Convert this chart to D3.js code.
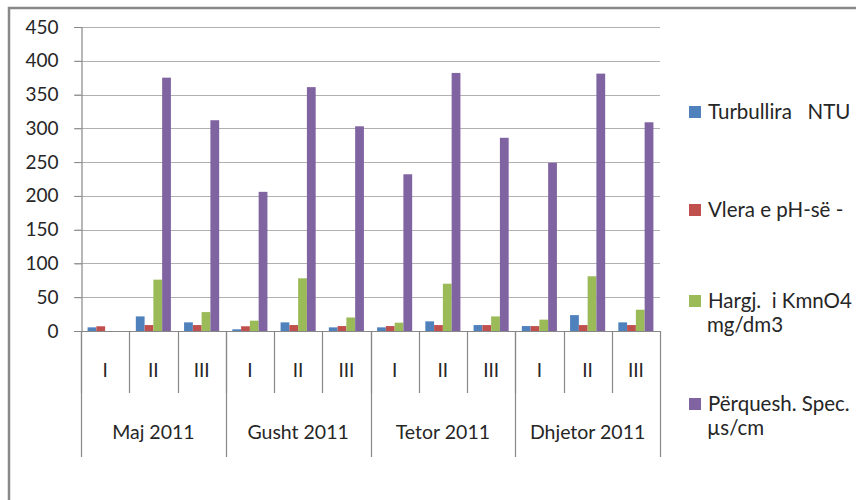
<!DOCTYPE html>
<html>
<head>
<meta charset="utf-8">
<script src="https://cdn.jsdelivr.net/npm/d3@7"></script>
<style>
  html, body { margin: 0; padding: 0; background: #fff; overflow: hidden; }
  svg text { font-family: Lato, "Open Sans", sans-serif; fill: #262626; }
</style>
</head>
<body>
<div id="chart"></div>
<script>
// categories
const months = ["Maj 2011", "Gusht 2011", "Tetor 2011", "Dhjetor 2011"];
const periods = ["I", "II", "III"];

// series, null = no bar
const turbullira = [5.4, 21.6, 12.8, 2.5, 12.8, 5.4, 5.4, 14.3, 8.8, 7.3, 23.5, 12.8];
const phVlera = [7, 8.8, 8.8, 7, 8.8, 7.3, 7.3, 8.8, 8.8, 7.3, 8.8, 8.8];
const kmno4 = [null, 76, 28, 15.3, 78, 20, 12.3, 70, 21.6, 16.8, 81, 31.5];
const perqueshmeria = [null, 375, 312, 206, 361, 303, 232, 382, 286, 249, 381, 309];

const yTicks = [0, 50, 100, 150, 200, 250, 300, 350, 400, 450];

const seriesNames = [["Turbullira   NTU"], ["Vlera e pH-së -"], ["Hargj.  i KmnO4", "mg/dm3"], ["Përquesh. Spec.", "µs/cm"]];
const seriesColors = ["#4F81BD", "#C0504D", "#9BBB59", "#8064A2"];
const seriesValues = [turbullira, phVlera, kmno4, perqueshmeria];

function drawChart() {
    const width = 856;
    const height = 500;

    const svg = d3.select("#chart")
        .append("svg")
        .attr("width", width)
        .attr("height", height);

    // outer chart frame (runs off the right and bottom edge)
    svg.append("rect")
        .attr("x", 9)
        .attr("y", 8)
        .attr("width", 1000)
        .attr("height", 700)
        .attr("fill", "none")
        .attr("stroke", "#888")
        .attr("stroke-width", 2.5);

    const plotLeft = 81, plotRight = 660, plotTop = 27, plotBottom = 331;

    // one slot per month/period pair
    const cats = [];
    months.forEach(m => periods.forEach(p => cats.push(m + "|" + p)));

    const x0 = d3.scaleBand()
        .domain(cats)
        .range([plotLeft, plotRight]);

    const x1 = d3.scaleBand()
        .domain(d3.range(seriesValues.length))
        .range([0, x0.bandwidth()])
        .paddingOuter(0.75);

    const xMonth = d3.scaleBand()
        .domain(months)
        .range([plotLeft, plotRight]);

    const y = d3.scaleLinear()
        .domain([0, 450])
        .range([plotBottom, plotTop]);

    // gridlines
    svg.append("g")
        .selectAll("line")
        .data(yTicks)
        .enter().append("line")
        .attr("x1", plotLeft - 7)
        .attr("x2", plotRight)
        .attr("y1", d => Math.round(y(d)) + 0.5)
        .attr("y2", d => Math.round(y(d)) + 0.5)
        .attr("stroke", d => d === 0 ? "#888" : "#b0b0b0")
        .attr("stroke-width", 1.2);

    // y axis
    const yAxis = svg.append("g")
        .attr("transform", `translate(${plotLeft + 0.5},0)`)
        .call(d3.axisLeft(y).tickValues(yTicks).tickSize(7).tickPadding(16));
    yAxis.select(".domain").attr("stroke", "#888").attr("stroke-width", 1.2);
    yAxis.selectAll(".tick line").attr("stroke", "#888");
    yAxis.selectAll("text")
        .attr("font-size", 19)
        .attr("font-family", "Lato, sans-serif")
        .attr("fill", "#262626");

    // bars
    const rows = cats.map((c, i) => ({ cat: c, values: seriesValues.map(s => s[i]) }));
    const groups = svg.append("g")
        .selectAll("g")
        .data(rows)
        .enter().append("g")
        .attr("transform", d => `translate(${x0(d.cat)},0)`);

    groups.selectAll("rect")
        .data(d => d.values.map((v, k) => ({ k, v })).filter(e => e.v !== null))
        .enter().append("rect")
        .attr("x", d => x1(d.k))
        .attr("width", x1.bandwidth())
        .attr("y", d => y(d.v))
        .attr("height", d => y(0) - y(d.v))
        .attr("fill", d => seriesColors[d.k]);

    // category axis: period dividers and labels
    const axisG = svg.append("g");
    axisG.selectAll("line.sub")
        .data(cats)
        .enter().append("line")
        .attr("class", "sub")
        .attr("x1", d => Math.round(x0(d)) + 0.5)
        .attr("x2", d => Math.round(x0(d)) + 0.5)
        .attr("y1", plotBottom)
        .attr("y2", 393)
        .attr("stroke", "#888")
        .attr("stroke-width", 1.2);

    axisG.selectAll("line.grp")
        .data(months.concat(["end"]))
        .enter().append("line")
        .attr("class", "grp")
        .attr("x1", d => Math.round(d === "end" ? plotRight : xMonth(d)) + 0.5)
        .attr("x2", d => Math.round(d === "end" ? plotRight : xMonth(d)) + 0.5)
        .attr("y1", plotBottom)
        .attr("y2", 457)
        .attr("stroke", "#888")
        .attr("stroke-width", 1.2);

    axisG.selectAll("text.sub")
        .data(cats)
        .enter().append("text")
        .attr("class", "sub")
        .attr("x", d => x0(d) + x0.bandwidth() / 2)
        .attr("y", 377)
        .attr("text-anchor", "middle")
        .attr("font-size", 19)
        .text(d => d.split("|")[1]);

    axisG.selectAll("text.grp")
        .data(months)
        .enter().append("text")
        .attr("class", "grp")
        .attr("x", d => xMonth(d) + xMonth.bandwidth() / 2)
        .attr("y", 439)
        .attr("text-anchor", "middle")
        .attr("font-size", 19.5)
        .text(d => d);

    // legend
    const legendY = [112, 210, 301, 404];
    const legend = svg.append("g");
    const items = legend.selectAll("g")
        .data(seriesNames)
        .enter().append("g")
        .attr("transform", (d, i) => `translate(689,${legendY[i]})`);

    items.append("rect")
        .attr("x", 0)
        .attr("y", -6)
        .attr("width", 12)
        .attr("height", 12)
        .attr("fill", (d, i) => seriesColors[i]);

    items.each(function (lines) {
        const t = d3.select(this).append("text")
            .attr("x", 19)
            .attr("y", 7)
            .attr("font-size", 20.5)
            .style("white-space", "pre");
        lines.forEach((ln, j) => {
            t.append("tspan")
                .attr("x", j === 0 ? 19 : 18)
                .attr("dy", j === 0 ? 0 : 24)
                .text(ln);
        });
    });
}

drawChart();
</script>
</body>
</html>
